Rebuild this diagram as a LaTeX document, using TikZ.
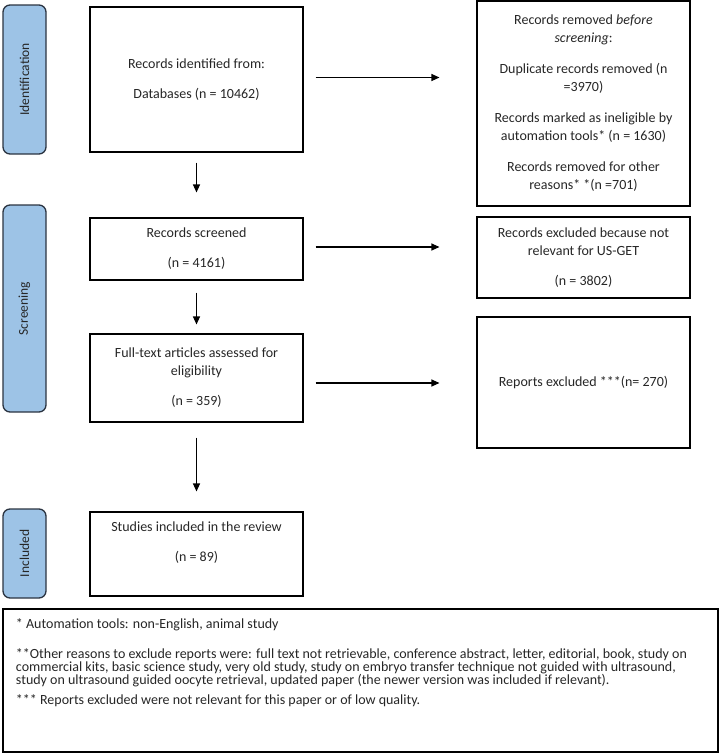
\documentclass[tikz,border=0pt]{standalone}
\usepackage{fontspec}
\setmainfont{Carlito}
\usetikzlibrary{arrows.meta}

\definecolor{stagefill}{HTML}{9DC3E6}
\definecolor{stageline}{HTML}{2B3441}

\begin{document}
\begin{tikzpicture}[x=1pt,y=-1pt,->,>={Triangle[length=8pt,width=7pt]},line width=1.1pt,
    box/.style={draw,rectangle,minimum width=213pt,align=center,inner sep=2pt,
      text=black!85,font=\fontsize{14}{18}\selectfont},
    stage/.style={draw=stageline,fill=stagefill,rounded corners=7pt,line width=1.3pt,
      minimum width=43pt,inner sep=0pt,text=black!85,font=\fontsize{13.5}{16}\selectfont}]

  \useasboundingbox (0,0) rectangle (721,753);

  % stages on the left
  \node[stage,minimum height=149pt] (idstage) at (24.5,79.5) {\rotatebox{90}{Identification}};
  \node[stage,minimum height=207pt] (scrstage) at (24.5,308.5) {\rotatebox{90}{Screening}};
  \node[stage,minimum height=89pt] (incstage) at (24.5,553.5) {\rotatebox{90}{Included}};

  % main column
  \node[box,minimum height=145pt] (ident) at (196.5,79.5) {Records identified from:\\[12pt]Databases (n = 10462)};
  \node[box,minimum height=62pt] (screened) at (196.5,249) {Records screened\\[12pt](n = 4161)};
  \node[box,minimum height=88pt] (fulltext) at (196.5,378) {Full-text articles assessed for\\eligibility\\[12pt](n = 359)};
  \node[box,minimum height=84pt] (studies) at (196.5,554) {Studies included in the review\\[12pt](n = 89)\\[6pt]};

  % exclusions on the right
  \node[box,minimum height=205pt] (removed) at (583.5,103.5) {Records removed \emph{before}\\\emph{screening}:\\[13pt]
    Duplicate records removed (n\\=3970)\\[13pt]
    Records marked as ineligible by\\automation tools* (n = 1630)\\[13pt]
    Records removed for other\\reasons* *(n =701)};
  \node[box,minimum height=81pt] (excluded) at (583.5,257.5) {Records excluded because not\\relevant for US-GET\\[12pt](n = 3802)};
  \node[box,minimum height=131pt] (reports) at (583.5,382.5) {Reports excluded ***(n= 270)};

  % notes
  \node[draw,rectangle,minimum width=715pt,minimum height=143pt] (notes) at (360.5,680.5) {};
  \node[anchor=north west,align=left,inner sep=0pt,text=black!85,font=\fontsize{14}{13}\selectfont]
    (notestext) at ([xshift=13pt,yshift=-10pt]notes.north west) {* Automation tools: non-English, animal study\\[17pt]
    **Other reasons to exclude reports were: full text not retrievable, conference abstract, letter, editorial, book, study on\\
    commercial kits, basic science study, very old study, study on embryo transfer technique not guided with ultrasound,\\
    study on ultrasound guided oocyte retrieval, updated paper (the newer version was included if relevant).\\[7pt]
    *** Reports excluded were not relevant for this paper or of low quality.};

  % arrows
  \path (ident) edge[shorten <=10pt,shorten >=25pt] (screened)
        (screened) edge[shorten <=12pt,shorten >=9pt] (fulltext)
        (fulltext) edge[shorten <=15pt,shorten >=20pt] (studies);
  \draw[shorten <=12pt,shorten >=37pt] ([yshift=2pt]ident.east) -- ([yshift=2pt]ident.east -| removed.west);
  \draw[shorten <=12pt,shorten >=37pt] ([yshift=2pt]screened.east) -- ([yshift=2pt]screened.east -| excluded.west);
  \draw[shorten <=12pt,shorten >=37pt] ([yshift=-5pt]fulltext.east) -- ([yshift=-5pt]fulltext.east -| reports.west);

\end{tikzpicture}
\end{document}
